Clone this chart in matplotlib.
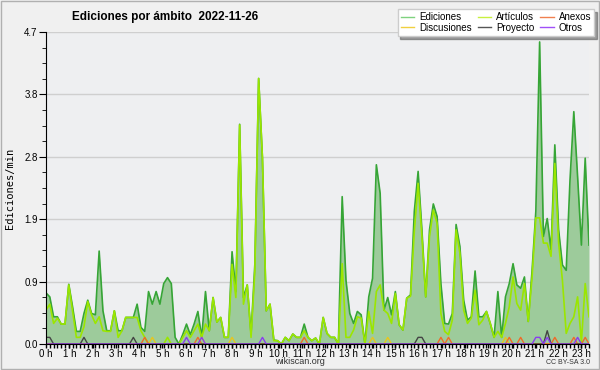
import numpy as np
import matplotlib
matplotlib.use("Agg")
import matplotlib.pyplot as plt
from matplotlib.lines import Line2D
from matplotlib.patches import Rectangle

# edits per minute, one value per 10 minutes (144 points)
ediciones = [0.77, 0.71, 0.41, 0.41, 0.3, 0.3, 0.9, 0.56, 0.19, 0.19, 0.46, 0.66,
             0.46, 0.44, 1.4, 0.5, 0.2, 0.2, 0.5, 0.2, 0.2, 0.4, 0.4, 0.4,
             0.6, 0.25, 0.19, 0.79, 0.6, 0.79, 0.6, 0.91, 1.0, 0.91, 0.1, 0.0,
             0.14, 0.3, 0.14, 0.3, 0.49, 0.1, 0.79, 0.2, 0.7, 0.33, 0.4, 0.1,
             0.1, 1.39, 0.79, 3.31, 0.7, 0.89, 0.15, 1.2, 4.0, 2.8, 0.5, 0.6,
             0.06, 0.05, 0.0, 0.1, 0.05, 0.15, 0.1, 0.1, 0.3, 0.1, 0.05, 0.09,
             0.0, 0.4, 0.16, 0.1, 0.1, 0.0, 2.22, 0.96, 0.46, 0.31, 0.49, 0.44,
             0.0, 0.71, 0.99, 2.7, 2.27, 0.51, 0.7, 0.44, 0.79, 0.29, 0.21, 0.69,
             0.74, 2.0, 2.6, 1.72, 0.71, 1.72, 2.11, 1.92, 0.91, 0.31, 0.3, 0.46,
             1.8, 1.47, 0.66, 0.36, 0.41, 1.1, 0.41, 0.41, 0.49, 0.31, 0.1, 0.79,
             0.1, 0.71, 0.91, 1.21, 0.89, 0.84, 1.01, 0.34, 1.1, 2.0, 4.55, 1.62,
             1.89, 1.42, 3.0, 1.72, 1.19, 1.11, 2.47, 3.5, 2.52, 1.49, 2.8, 1.49]
articulos = [0.51, 0.6, 0.31, 0.39, 0.3, 0.3, 0.89, 0.5, 0.1, 0.1, 0.26, 0.64,
             0.44, 0.31, 0.41, 0.2, 0.19, 0.19, 0.5, 0.1, 0.2, 0.4, 0.4, 0.4,
             0.4, 0.2, 0.1, 0.0, 0.0, 0.0, 0.0, 0.0, 0.1, 0.0, 0.0, 0.0,
             0.1, 0.2, 0.1, 0.2, 0.3, 0.1, 0.3, 0.2, 0.7, 0.33, 0.4, 0.1,
             0.1, 1.2, 0.7, 3.3, 0.6, 0.89, 0.1, 1.1, 4.0, 2.8, 0.5, 0.6,
             0.05, 0.05, 0.0, 0.1, 0.05, 0.15, 0.1, 0.1, 0.2, 0.1, 0.05, 0.09,
             0.0, 0.4, 0.16, 0.1, 0.1, 0.0, 1.21, 0.1, 0.1, 0.21, 0.41, 0.39,
             0.0, 0.49, 0.16, 0.79, 0.89, 0.51, 0.46, 0.31, 0.76, 0.29, 0.21, 0.69,
             0.72, 1.7, 2.42, 1.62, 0.71, 1.62, 2.02, 1.82, 0.46, 0.19, 0.14, 0.36,
             1.72, 1.37, 0.51, 0.31, 0.39, 0.81, 0.29, 0.36, 0.49, 0.31, 0.1, 0.19,
             0.1, 0.31, 0.56, 1.01, 0.61, 0.51, 0.91, 0.34, 1.0, 1.9, 1.9, 1.52,
             1.52, 1.32, 2.72, 1.52, 0.96, 0.16, 0.31, 0.41, 0.71, 0.03, 0.91, 0.41]
# sparse series: {10-minute slot: edits/min}
anexos = {26: 0.1, 40: 0.1, 68: 0.1, 104: 0.1, 106: 0.1, 122: 0.1, 125: 0.1,
          134: 0.1, 139: 0.1, 142: 0.1}
discusiones = {28: 0.1, 41: 0.1, 49: 0.1, 86: 0.1, 90: 0.1, 121: 0.1}
proyecto = {0: 0.1, 1: 0.1, 10: 0.1, 23: 0.1, 98: 0.1, 99: 0.1, 132: 0.2}
otros = {37: 0.1, 41: 0.1, 57: 0.1, 129: 0.1, 130: 0.1, 132: 0.1, 140: 0.1}
hour_labels = [f"{h} h" for h in range(24)]
y_max = 4.7


def sparse_to_array(d, n):
    arr = np.zeros(n)
    for k, v in d.items():
        arr[k] = v
    return arr


n = len(ediciones)
x = np.arange(n)
narrow = ["Liberation Sans", "DejaVu Sans"]

fig = plt.figure(figsize=(6, 3.7), dpi=100, facecolor="#f0f0f0")
ax = fig.add_axes([46 / 600, 1 - 344 / 370, 543 / 600, 312 / 370])
ax.set_facecolor("#eeeff1")
fig.patches.append(Rectangle((0.002, 0.003), 0.996, 0.994, transform=fig.transFigure,
                             fill=False, edgecolor="#b0b0b0", linewidth=1))

# grid and axes
ax.set_xlim(0, n - 1)
ax.set_ylim(0, y_max)
ax.set_yticks(np.arange(6) * y_max / 5)
ax.set_yticklabels([f"{v:.1f}" for v in np.arange(6) * y_max / 5], fontsize=7, family=narrow)
ax.set_yticks(np.arange(21) * y_max / 20, minor=True)
ax.grid(axis="y", which="major", color="#cfcfcf", linewidth=1)
ax.set_axisbelow(True)
ax.set_xticks(np.arange(24) * 6.13)
ax.set_xticklabels(hour_labels, fontsize=7, family=narrow)
ax.set_xticks(x, minor=True)
ax.tick_params(axis="x", which="major", length=3, width=1, pad=0.5)
ax.tick_params(axis="x", which="minor", length=3, width=1)
ax.tick_params(axis="y", which="major", length=5, pad=1)
ax.tick_params(axis="y", which="minor", length=3)
for s in ["top", "right"]:
    ax.spines[s].set_visible(False)

# series
ax.fill_between(x, 0, ediciones, color="#9dcb9b", linewidth=0)
ax.plot(x, ediciones, color="#36a536", linewidth=1.2)
ax.plot(x, articulos, color="#9be600", linewidth=1.2)
ax.plot(x, sparse_to_array(discusiones, n), color="#e8c61c", linewidth=1)
ax.plot(x, sparse_to_array(anexos, n), color="#f06a28", linewidth=1)
ax.plot(x, sparse_to_array(proyecto, n), color="#444444", linewidth=1)
ax.plot(x, sparse_to_array(otros, n), color="#8a3cf0", linewidth=1)

# legend (column order gives the 2 x 3 layout)
handles = [Line2D([], [], color="#7fd27f", lw=1), Line2D([], [], color="#f0d040", lw=1),
           Line2D([], [], color="#c8f040", lw=1), Line2D([], [], color="#555555", lw=1),
           Line2D([], [], color="#f08050", lw=1), Line2D([], [], color="#a050f8", lw=1)]
names = ["Ediciones", "Discusiones", "Artículos", "Proyecto", "Anexos", "Otros"]
leg = fig.legend(handles, names, ncol=3, loc="upper right", bbox_to_anchor=(594 / 600, 1 - 9 / 370),
                 prop={"family": narrow, "size": 7}, frameon=True, fancybox=False, shadow=True,
                 handlelength=1.4, handletextpad=0.5, columnspacing=0.6, labelspacing=0.1,
                 borderpad=0.3, borderaxespad=0)
leg.get_frame().set_edgecolor("#cccccc")
leg.get_frame().set_facecolor("white")

# texts
fig.text(165 / 600, 1 - 17 / 370, "Ediciones por ámbito  2022-11-26", ha="center", va="center",
         fontsize=8.5, fontweight="bold", family=narrow)
fig.text(10 / 600, 1 - 188 / 370, "Ediciones/min", rotation=90, ha="center", va="center",
         fontsize=7.5, family="DejaVu Sans Mono")
fig.text(300 / 600, 1 - 362 / 370, "wikiscan.org", ha="center", va="center", fontsize=6.5,
         color="#333333", family=narrow)
fig.text(590 / 600, 1 - 362 / 370, "CC BY-SA 3.0", ha="right", va="center", fontsize=5,
         color="#333333", family=narrow)

fig.savefig("out.png", dpi=100, facecolor=fig.get_facecolor())
